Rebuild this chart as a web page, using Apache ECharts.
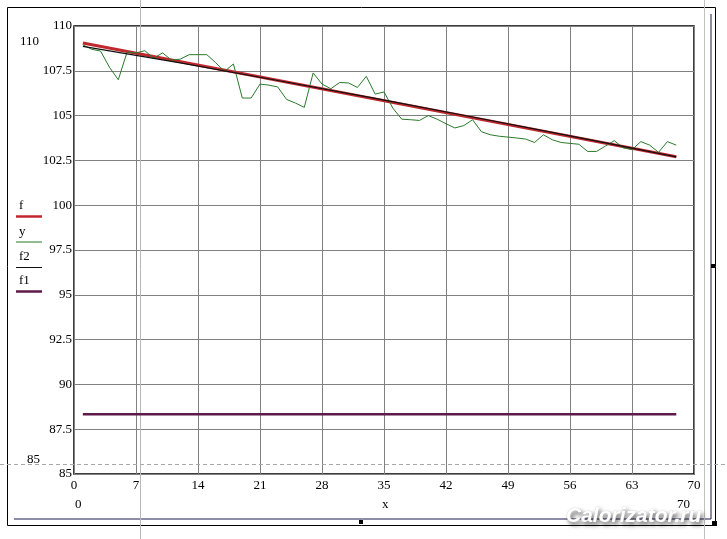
<!DOCTYPE html>
<html>
<head>
<meta charset="utf-8">
<script src="https://cdn.jsdelivr.net/npm/echarts@6/dist/echarts.min.js"></script>
<style>
html,body{margin:0;padding:0;background:#fff;}
#c{width:727px;height:539px;}
</style>
</head>
<body>
<div id="c"></div>
<script>
// ---- data ----
const xTicks = [0, 7, 14, 21, 28, 35, 42, 49, 56, 63, 70];
const yTicks = [85, 87.5, 90, 92.5, 95, 97.5, 100, 102.5, 105, 107.5, 110];
const yX = [1,2,3,4,5,6,7,8,9,10,11,12,13,14,15,16,17,18,19,20,21,22,23,24,25,26,27,28,29,30,31,32,33,34,35,36,37,38,39,40,41,42,43,44,45,46,47,48,49,50,51,52,53,54,55,56,57,58,59,60,61,62,63,64,65,66,67,68];
const yVals = [108.95,108.7,108.6,107.7,107.0,108.55,108.5,108.62,108.2,108.5,108.1,108.15,108.4,108.4,108.4,107.95,107.47,107.88,105.98,105.98,106.76,106.7,106.6,105.9,105.7,105.46,107.38,106.76,106.5,106.85,106.82,106.57,107.19,106.2,106.32,105.42,104.8,104.77,104.73,105.0,104.8,104.55,104.31,104.44,104.77,104.1,103.93,103.85,103.8,103.75,103.69,103.5,103.93,103.65,103.5,103.45,103.4,103.0,103.0,103.3,103.6,103.2,103.1,103.55,103.35,102.95,103.55,103.35];
const fX = [1, 68];
const fY = [109.05, 102.7];
const f2X = [1, 12, 23, 34, 45, 56, 68];
const f2Y = [108.86, 107.94, 106.96, 105.96, 104.92, 103.87, 102.7];
const f1X = [1, 68];
const f1Y = [88.33, 88.33];
const legendNames = ['f', 'y', 'f2', 'f1'];

const zip = (a, b) => a.map((v, i) => [v, b[i]]);
const serif = '"Liberation Serif", "DejaVu Serif", serif';

const colF = '#c0282e', colY = '#2b7a2b', colF2 = '#111111', colF1 = '#5e1a4a';
const legendCols = [colF, colY, colF2, colF1];
const legendTop = [199, 225, 250, 274];
const legendLineY = [216.5, 242, 267.5, 291.5];

const graphics = [];
// outer frame
graphics.push({type:'rect', shape:{x:7.5,y:7.5,width:708,height:518}, style:{fill:null, stroke:'#000', lineWidth:1}, z:1});
graphics.push({type:'line', shape:{x1:711,y1:14,x2:711,y2:519}, style:{stroke:'#1a1a50', lineWidth:1}, z:1});
graphics.push({type:'line', shape:{x1:14,y1:519,x2:711,y2:519}, style:{stroke:'#1a1a50', lineWidth:1}, z:1});
// cursor lines
graphics.push({type:'line', shape:{x1:140.5,y1:0,x2:140.5,y2:539}, style:{stroke:'#b8b8b8', lineWidth:1}, z:2});
graphics.push({type:'line', shape:{x1:704.5,y1:0,x2:704.5,y2:539}, style:{stroke:'#c0c0c0', lineWidth:1}, z:2});
graphics.push({type:'line', shape:{x1:0,y1:464.5,x2:727,y2:464.5}, style:{stroke:'#a8a8a8', lineWidth:1, lineDash:[4,3]}, z:2});
// small handles
graphics.push({type:'rect', shape:{x:711,y:264,width:4,height:4}, style:{fill:'#000'}, z:3});
graphics.push({type:'rect', shape:{x:359,y:520,width:4,height:4}, style:{fill:'#000'}, z:3});
graphics.push({type:'rect', shape:{x:712,y:521,width:5,height:5}, style:{fill:'#000'}, z:3});
// limit labels
const txt = (t, x, y, align) => ({type:'text', x:x, y:y, style:{text:t, font:'13px ' + serif, fill:'#000', textAlign:align||'left', textVerticalAlign:'middle'}, z:5});
graphics.push(txt('110', 20, 42));
graphics.push(txt('85', 27, 460));
graphics.push(txt('0', 75, 505));
graphics.push(txt('70', 677, 505));
graphics.push(txt('x', 382, 505));
// legend
legendNames.forEach((n, i) => {
  graphics.push({type:'text', x:19, y:legendTop[i], style:{text:n, font:'13px ' + serif, fill:'#000'}, z:5});
  graphics.push({type:'line', shape:{x1:16,y1:legendLineY[i],x2:42,y2:legendLineY[i]}, style:{stroke:legendCols[i], lineWidth:(i===1||i===2)?1:2.5}, z:5});
});
// watermark
graphics.push({type:'text', x:566, y:506, style:{text:'Calorizator.ru', font:'italic bold 21px "Liberation Sans", Arial, sans-serif', fill:'#ffffff', stroke:'#d8d8d8', lineWidth:0.5, textShadowColor:'rgba(0,0,0,0.55)', textShadowBlur:4, textShadowOffsetX:2, textShadowOffsetY:3}, z:10});

const chart = echarts.init(document.getElementById('c'), null, {renderer:'canvas'});
chart.setOption({
  animation: false,
  backgroundColor: '#fff',
  grid: {left:74, top:26, right:33, bottom:65, show:true, borderColor:'#000', borderWidth:1.5, backgroundColor:'transparent'},
  xAxis: {
    type:'value', min:0, max:70, interval:7,
    axisLine:{show:false}, axisTick:{show:false},
    splitLine:{show:true, lineStyle:{color:'#808080', width:1}},
    axisLabel:{fontFamily:serif, fontSize:13, color:'#000', margin:5,
      formatter: v => xTicks.indexOf(v) >= 0 ? String(v) : ''}
  },
  yAxis: {
    type:'value', min:85, max:110, interval:2.5,
    axisLine:{show:false}, axisTick:{show:false},
    splitLine:{show:true, lineStyle:{color:'#808080', width:1}},
    axisLabel:{fontFamily:serif, fontSize:13, color:'#000', margin:2,
      formatter: v => yTicks.indexOf(v) >= 0 ? String(v) : ''}
  },
  series: [
    {name:'f', type:'line', data:zip(fX, fY), symbol:'none', lineStyle:{color:colF, width:3}, z:3},
    {name:'y', type:'line', data:zip(yX, yVals), symbol:'none', lineStyle:{color:colY, width:1}, z:4},
    {name:'f2', type:'line', data:zip(f2X, f2Y), symbol:'none', lineStyle:{color:colF2, width:1.2}, z:5},
    {name:'f1', type:'line', data:zip(f1X, f1Y), symbol:'none', lineStyle:{color:colF1, width:2.5}, z:3}
  ],
  graphic: graphics
});
</script>
</body>
</html>
